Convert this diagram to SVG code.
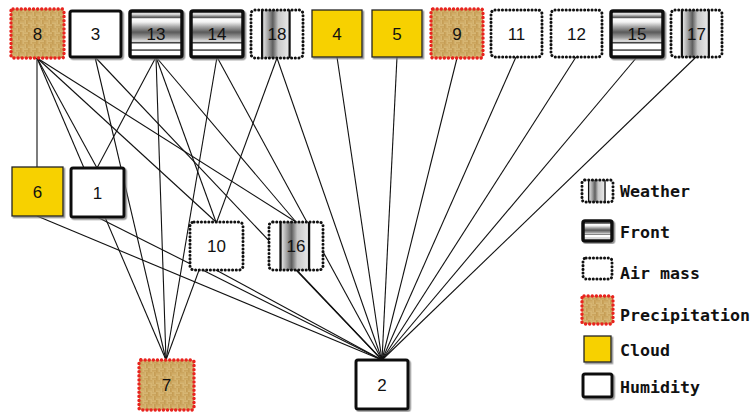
<svg xmlns="http://www.w3.org/2000/svg" width="752" height="412" viewBox="0 0 752 412">
  <defs>
    <!-- woven burlap fill for precipitation nodes -->
    <pattern id="weave" patternUnits="userSpaceOnUse" width="8" height="8">
      <rect width="8" height="8" fill="#a57a38"/>
      <rect x="0" y="0.4" width="4" height="1.3" fill="#edd08c"/>
      <rect x="0" y="2.4" width="4" height="1.3" fill="#e3c076"/>
      <rect x="4.4" y="0" width="1.3" height="4" fill="#dbb56a"/>
      <rect x="6.4" y="0" width="1.3" height="4" fill="#edd08c"/>
      <rect x="0.4" y="4" width="1.3" height="4" fill="#edd08c"/>
      <rect x="2.4" y="4" width="1.3" height="4" fill="#dbb56a"/>
      <rect x="4" y="4.4" width="4" height="1.3" fill="#e3c076"/>
      <rect x="4" y="6.4" width="4" height="1.3" fill="#edd08c"/>
    </pattern>
    <!-- horizontal banding for front nodes -->
    <linearGradient id="frontBands" x1="0" y1="0" x2="0" y2="1">
      <stop offset="0" stop-color="#ffffff"/>
      <stop offset="0.08" stop-color="#cfcfcf"/>
      <stop offset="0.14" stop-color="#555555"/>
      <stop offset="0.17" stop-color="#ffffff"/>
      <stop offset="0.24" stop-color="#f2f2f2"/>
      <stop offset="0.34" stop-color="#a8a8a8"/>
      <stop offset="0.46" stop-color="#5a5a5a"/>
      <stop offset="0.58" stop-color="#a0a0a0"/>
      <stop offset="0.66" stop-color="#e8e8e8"/>
      <stop offset="0.69" stop-color="#222222"/>
      <stop offset="0.72" stop-color="#ffffff"/>
      <stop offset="0.82" stop-color="#ffffff"/>
      <stop offset="0.85" stop-color="#222222"/>
      <stop offset="0.88" stop-color="#ffffff"/>
      <stop offset="1" stop-color="#ffffff"/>
    </linearGradient>
    <!-- vertical shading between the two bars of weather nodes -->
    <linearGradient id="weatherShade" x1="0" y1="0" x2="1" y2="0">
      <stop offset="0" stop-color="#f0f0f0"/>
      <stop offset="0.25" stop-color="#9a9a9a"/>
      <stop offset="0.4" stop-color="#5e5e5e"/>
      <stop offset="0.6" stop-color="#c8c8c8"/>
      <stop offset="1" stop-color="#e8e8e8"/>
    </linearGradient>
    <filter id="shadow" x="-10%" y="-10%" width="125%" height="125%">
      <feDropShadow dx="1.5" dy="1.5" stdDeviation="0.7" flood-color="#777" flood-opacity="0.8"/>
    </filter>
    <!-- weather node body, scaled per use -->
    <symbol id="weatherBody" viewBox="0 0 52 48" preserveAspectRatio="none">
      <rect x="0" y="0" width="52" height="48" fill="#fff"/>
      <rect x="11" y="0" width="27" height="48" fill="url(#weatherShade)"/>
      <rect x="10" y="0" width="2.2" height="48" fill="#111"/>
      <rect x="37.5" y="0" width="2.2" height="48" fill="#111"/>
    </symbol>
  </defs>

  <style>
    .edge { stroke: #111; stroke-width: 1.1; fill: none; }
    .num { font-family: "Liberation Sans", Arial, sans-serif; font-size: 17px; fill: #111; text-anchor: middle; }
    .legend { font-family: "DejaVu Sans Mono", "Liberation Mono", monospace; font-size: 16.6px; font-weight: bold; fill: #111; }
    .humid { fill: #fff; stroke: #111; stroke-width: 3; filter: url(#shadow); }
    .cloud { fill: #f7d100; stroke: #222; stroke-width: 1.3; filter: url(#shadow); }
    .front { fill: url(#frontBands); stroke: #111; stroke-width: 3.5; filter: url(#shadow); }
    .air { fill: #fff; stroke: #111; stroke-width: 3; stroke-dasharray: 0.1 3.6; stroke-linecap: round; }
    .weatherEdge { fill: none; stroke: #111; stroke-width: 3; stroke-dasharray: 0.1 3.6; stroke-linecap: round; }
    .precip { fill: url(#weave); stroke: #e8231e; stroke-width: 3.4; stroke-dasharray: 0.1 4; stroke-linecap: round; }
  </style>

  <rect width="752" height="412" fill="#fff"/>

  <!-- connectors: bottom centre of parent to top centre of child -->
  <g id="connectors">
    <line class="edge" x1="37" y1="58" x2="37" y2="167"/>
    <line class="edge" x1="37" y1="58" x2="97" y2="168"/>
    <line class="edge" x1="37" y1="58" x2="166" y2="360"/>
    <line class="edge" x1="37" y1="58" x2="216" y2="222"/>
    <line class="edge" x1="37" y1="58" x2="296" y2="222"/>
    <line class="edge" x1="95" y1="57" x2="166" y2="360"/>
    <line class="edge" x1="95" y1="57" x2="382" y2="360"/>
    <line class="edge" x1="156" y1="57" x2="97" y2="168"/>
    <line class="edge" x1="156" y1="57" x2="166" y2="360"/>
    <line class="edge" x1="156" y1="57" x2="216" y2="222"/>
    <line class="edge" x1="156" y1="57" x2="296" y2="222"/>
    <line class="edge" x1="217" y1="57" x2="166" y2="360"/>
    <line class="edge" x1="217" y1="57" x2="382" y2="360"/>
    <line class="edge" x1="277" y1="58" x2="166" y2="360"/>
    <line class="edge" x1="277" y1="58" x2="382" y2="360"/>
    <line class="edge" x1="337" y1="57" x2="382" y2="360"/>
    <line class="edge" x1="397" y1="57" x2="382" y2="360"/>
    <line class="edge" x1="457" y1="58" x2="382" y2="360"/>
    <line class="edge" x1="516" y1="57" x2="382" y2="360"/>
    <line class="edge" x1="576" y1="57" x2="382" y2="360"/>
    <line class="edge" x1="637" y1="57" x2="382" y2="360"/>
    <line class="edge" x1="696" y1="57" x2="382" y2="360"/>
    <line class="edge" x1="37" y1="216" x2="382" y2="360"/>
    <line class="edge" x1="97" y1="217" x2="382" y2="360"/>
    <line class="edge" x1="216" y1="270" x2="382" y2="360"/>
    <line class="edge" x1="296" y1="270" x2="382" y2="360"/>
  </g>

  <!-- top row -->
  <g id="node8"><rect class="precip" x="11" y="9" width="53" height="49" rx="2"/><text class="num" x="37.5" y="40">8</text></g>
  <g id="node3"><rect class="humid" x="70" y="11" width="51" height="46" rx="2"/><text class="num" x="95.5" y="40">3</text></g>
  <g id="node13"><rect class="front" x="130" y="11" width="52" height="46" rx="2"/><text class="num" x="156" y="40">13</text></g>
  <g id="node14"><rect class="front" x="191" y="11" width="52" height="46" rx="2"/><text class="num" x="217" y="40">14</text></g>
  <g id="node18"><use href="#weatherBody" x="251" y="10" width="52" height="48"/><rect class="weatherEdge" x="251" y="10" width="52" height="48" rx="4"/><text class="num" x="277" y="40">18</text></g>
  <g id="node4"><rect class="cloud" x="312" y="10" width="50" height="47"/><text class="num" x="337" y="40">4</text></g>
  <g id="node5"><rect class="cloud" x="372" y="10" width="50" height="47"/><text class="num" x="397" y="40">5</text></g>
  <g id="node9"><rect class="precip" x="431" y="9" width="52" height="49" rx="2"/><text class="num" x="457" y="40">9</text></g>
  <g id="node11"><rect class="air" x="491" y="10" width="51" height="47" rx="4"/><text class="num" x="516.5" y="40">11</text></g>
  <g id="node12"><rect class="air" x="551" y="10" width="51" height="47" rx="4"/><text class="num" x="576.5" y="40">12</text></g>
  <g id="node15"><rect class="front" x="611" y="11" width="52" height="46" rx="2"/><text class="num" x="637" y="40">15</text></g>
  <g id="node17"><use href="#weatherBody" x="671" y="10" width="51" height="47"/><rect class="weatherEdge" x="671" y="10" width="51" height="47" rx="4"/><text class="num" x="696.5" y="40">17</text></g>

  <!-- middle rows -->
  <g id="node6"><rect class="cloud" x="12" y="167" width="51" height="49"/><text class="num" x="37.5" y="198">6</text></g>
  <g id="node1"><rect class="humid" x="71" y="168" width="53" height="49" rx="2"/><text class="num" x="97.5" y="199">1</text></g>
  <g id="node10"><rect class="air" x="190" y="222" width="53" height="48" rx="4"/><text class="num" x="216.5" y="252">10</text></g>
  <g id="node16"><use href="#weatherBody" x="269" y="222" width="54" height="48"/><rect class="weatherEdge" x="269" y="222" width="54" height="48" rx="4"/><text class="num" x="296" y="252">16</text></g>

  <!-- bottom row -->
  <g id="node7"><rect class="precip" x="139" y="360" width="55" height="50" rx="2"/><text class="num" x="166.5" y="391">7</text></g>
  <g id="node2"><rect class="humid" x="356" y="360" width="52" height="49" rx="2"/><text class="num" x="382" y="391">2</text></g>

  <!-- legend -->
  <g id="legend">
    <use href="#weatherBody" x="582" y="180" width="31" height="22"/>
    <rect class="weatherEdge" x="582" y="180" width="31" height="22" rx="3"/>
    <text class="legend" x="620" y="197">Weather</text>
    <rect class="front" x="583" y="221" width="29" height="20" rx="2"/>
    <text class="legend" x="620" y="238">Front</text>
    <rect class="air" x="583" y="258" width="29" height="21" rx="3"/>
    <text class="legend" x="620" y="279">Air mass</text>
    <rect class="precip" x="582" y="296" width="31" height="28" rx="2"/>
    <text class="legend" x="620" y="321">Precipitation</text>
    <rect class="cloud" x="584" y="336" width="27" height="26"/>
    <text class="legend" x="620" y="356">Cloud</text>
    <rect class="humid" x="583" y="374" width="29" height="23" rx="2"/>
    <text class="legend" x="620" y="393">Humidity</text>
  </g>
</svg>
